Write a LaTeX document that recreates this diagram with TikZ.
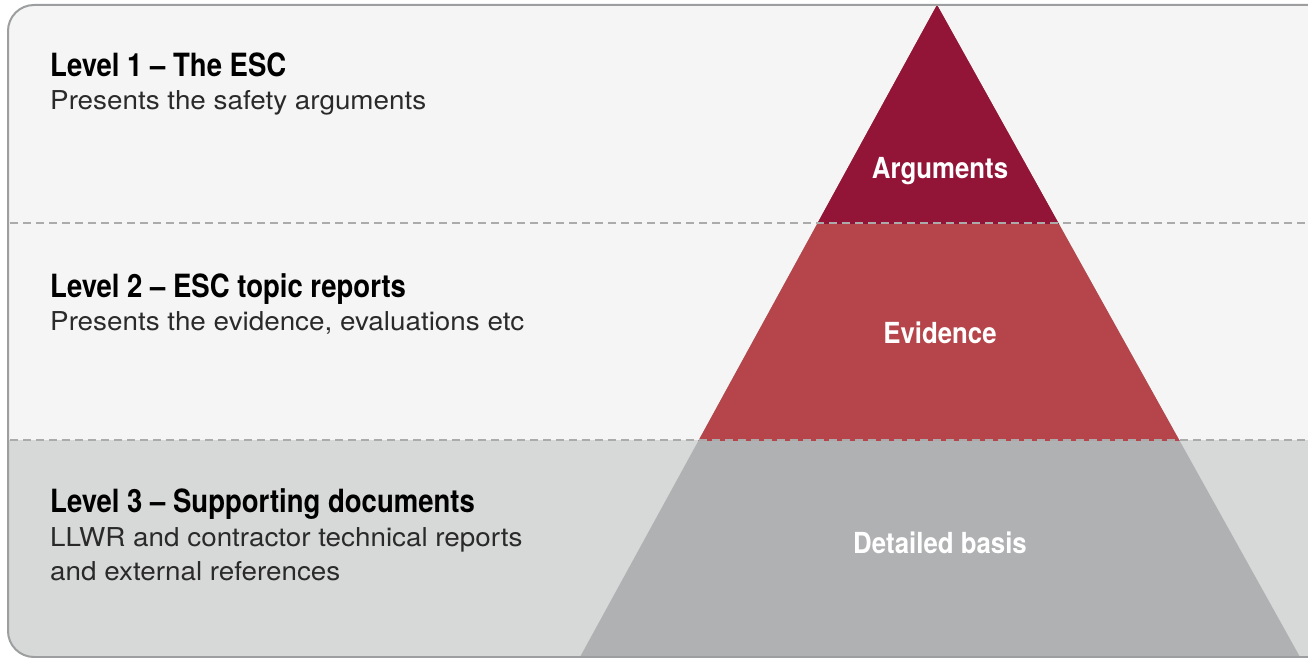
\documentclass[tikz,border=0pt]{standalone}
\usepackage{fontspec}
\setmainfont{TeX Gyre Heros}
\newfontfamily\condbold[FakeStretch=0.86]{TeX Gyre Heros Bold}
\newfontfamily\labelbold[FakeStretch=0.89]{TeX Gyre Heros Bold}
\newfontfamily\bodyfont[FakeStretch=1.07]{TeX Gyre Heros}
\definecolor{bglight}{HTML}{F4F5F4}
\definecolor{bgdark}{HTML}{D7D8D8}
\definecolor{framegray}{HTML}{9D9E9F}
\definecolor{dashgray}{HTML}{ABABAB}
\definecolor{argred}{HTML}{921538}
\definecolor{evired}{HTML}{B5454A}
\definecolor{basegray}{HTML}{B0B1B3}
\definecolor{textdark}{HTML}{2A2A2A}
\tikzset{
  title/.style={anchor=base west, inner sep=0pt, font=\condbold\fontsize{32}{36}\selectfont, text=black},
  body/.style={anchor=base west, inner sep=0pt, font=\bodyfont\fontsize{26}{34}\selectfont, text=textdark},
  tlabel/.style={anchor=base, inner sep=0pt, font=\labelbold\fontsize{29}{34}\selectfont, text=white},
  sep/.style={draw=dashgray, line width=1.6pt, dash pattern=on 8pt off 5pt}
}
\begin{document}
\begin{tikzpicture}[x=1pt,y=-1pt]
\useasboundingbox (0,0) rectangle (1308,658);
\begin{scope}
\clip[rounded corners=26pt] (8,5) rectangle (1335,657);
\fill[bglight] (8,5) rectangle (1335,440);
\fill[bgdark] (8,440) rectangle (1335,657);
\coordinate (apex) at (937,5);
\coordinate (bl) at (580,657);
\coordinate (br) at (1300,657);
\fill[basegray] (apex) -- (bl) -- (br) -- cycle;
\begin{scope}
\clip (0,0) rectangle (1308,440);
\fill[evired] (apex) -- (bl) -- (br) -- cycle;
\end{scope}
\begin{scope}
\clip (0,0) rectangle (1308,223);
\fill[argred] (apex) -- (bl) -- (br) -- cycle;
\end{scope}
\coordinate (d1a) at (10,223);
\coordinate (d1b) at (1308,223);
\coordinate (d2a) at (10,440);
\coordinate (d2b) at (1308,440);
\draw[sep] (d1a) -- (d1b);
\draw[sep] (d2a) -- (d2b);
\end{scope}
\draw[framegray, line width=2pt, rounded corners=26pt] (8,5) rectangle (1335,657);

\node[title] (t1) at (50,77) {Level 1 – The ESC};
\node[body] (b1) at (50,110) {Presents the safety arguments};
\node[title] (t2) at (50,297) {Level 2 – ESC topic reports};
\node[body] (b2) at (50,330) {Presents the evidence, evaluations etc};
\node[title] (t3) at (50,512) {Level 3 – Supporting documents};
\node[body] (b3) at (50,546) {LLWR and contractor technical reports};
\node[body] (b3b) at (50,580) {and external references};

\node[tlabel] (la) at (940,178) {Arguments};
\node[tlabel] (le) at (940,343) {Evidence};
\node[tlabel] (ld) at (940,553) {Detailed basis};
\end{tikzpicture}
\end{document}
